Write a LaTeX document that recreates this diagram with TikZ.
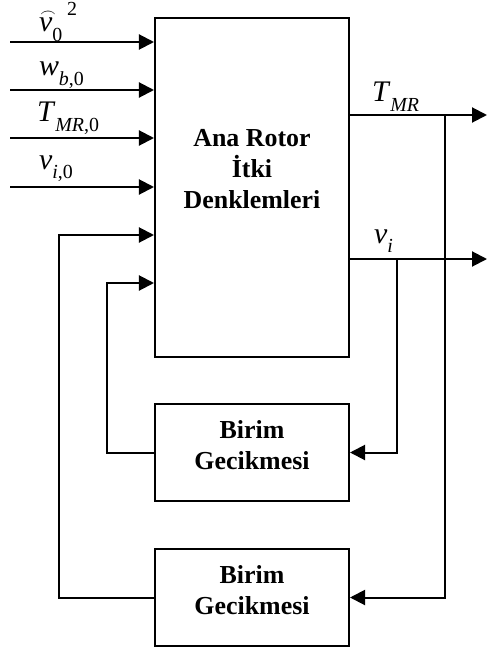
\documentclass[tikz,border=0pt]{standalone}
\usepackage{fontspec}
\setmainfont{Liberation Serif}
\usetikzlibrary{arrows.meta}
\newcommand{\sig}[2]{\textit{#1}\raisebox{-.7ex}{\fontsize{10}{10}\selectfont #2}}
\newcommand{\arcv}{\rlap{\hspace{.04em}\raisebox{.52em}{\fontsize{7}{7}\selectfont$\frown$}}\textit{v}}

\begin{document}
\begin{tikzpicture}[x=0.5bp,y=-0.5bp,line width=1bp,
		blk/.style={draw, rectangle, minimum width=97bp, inner sep=0pt, align=center,
			font=\bfseries\fontsize{13}{15.5}\selectfont},
		lbl/.style={anchor=base west, inner sep=0pt, font=\fontsize{15}{15}\selectfont},
		sig/.style={-{Triangle[length=7.5bp,width=7.5bp]}}]
	\useasboundingbox (0,0) rectangle (488,653);
	% bloklar
	\node[blk, minimum height=169.5bp] (rotor) at (252,187.5) {};
	\node[blk, draw=none] (rotortxt) at (252,169) {Ana Rotor\\İtki\\Denklemleri};
	\node[blk, minimum height=48.5bp] (gec1) at (252,452.5) {Birim\\Gecikmesi\rule[-1.2ex]{0pt}{0pt}};
	\node[blk, minimum height=48.5bp] (gec2) at (252,597.5) {Birim\\Gecikmesi\rule[-1.2ex]{0pt}{0pt}};
	% girisler
	\coordinate (in1) at (10,42);
	\coordinate (in2) at (10,90);
	\coordinate (in3) at (10,138);
	\coordinate (in4) at (10,187);
	\foreach \i in {1,...,4}
		\draw[sig] (in\i) -- (in\i -| rotor.west);
	\node[lbl] (lv0) at (38,32) {\arcv\raisebox{-.7ex}{\fontsize{10}{10}\selectfont 0}\,\raisebox{1.2ex}{\fontsize{10}{10}\selectfont 2}};
	\node[lbl] (lwb) at (38,76) {\sig{w}{\textit{b},0}};
	\node[lbl] (ltmr0) at (36,122) {\sig{T}{\textit{MR},0}};
	\node[lbl] (lvi0) at (38,169) {\sig{v}{\textit{i},0}};
	% cikislar
	\coordinate (tmr) at (487,115);
	\coordinate (vi) at (487,259);
	\draw[sig] (rotor.east |- tmr) -- (tmr);
	\draw[sig] (rotor.east |- vi) -- (vi);
	\node[lbl] (ltmr) at (371,102) {\sig{T}{\textit{MR}}};
	\node[lbl] (lvi) at (373,243) {\sig{v}{\textit{i}}};
	% geri besleme
	\coordinate (jt) at (445,115);
	\coordinate (jv) at (397,259);
	\coordinate (fb1) at (107,283);
	\coordinate (fb2) at (59,235);
	\draw[sig] (jt) |- (gec2.east);
	\draw[sig] (jv) |- (gec1.east);
	\draw[sig] (gec1.west) -| (fb1) -- (fb1 -| rotor.west);
	\draw[sig] (gec2.west) -| (fb2) -- (fb2 -| rotor.west);
\end{tikzpicture}
\end{document}
